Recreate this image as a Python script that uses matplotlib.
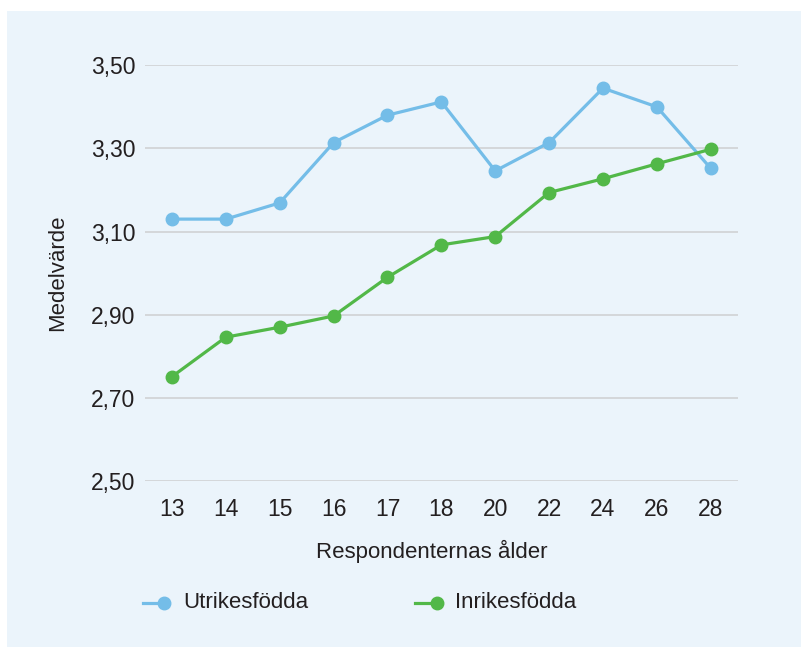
import matplotlib.pyplot as plt
from matplotlib.lines import Line2D
from matplotlib.patches import Rectangle

plt.rcParams['font.family'] = ['Liberation Sans', 'DejaVu Sans']

ages = ['13', '14', '15', '16', '17', '18', '20', '22', '24', '26', '28']
utrikes = [3.130, 3.130, 3.169, 3.314, 3.380, 3.412, 3.246, 3.314, 3.445, 3.400, 3.252]
inrikes = [2.751, 2.846, 2.870, 2.897, 2.990, 3.068, 3.088, 3.194, 3.227, 3.263, 3.298]
yticks = [2.50, 2.70, 2.90, 3.10, 3.30, 3.50]

blue = '#74BDE8'
green = '#52B848'
bg = '#EBF4FB'
txt = '#231F20'

W, H = 801, 647
fig = plt.figure(figsize=(W / 100, H / 100), dpi=100)
fig.patch.set_facecolor('white')
fig.add_artist(Rectangle((7 / W, 0), 1 - 7 / W, 1 - 11 / H, transform=fig.transFigure,
                         facecolor=bg, edgecolor='none', zorder=-10))

ax = fig.add_axes([145 / W, 1 - 481 / H, (737.7 - 145) / W, (481 - 65.3) / H])
ax.set_facecolor('none')

x = list(range(len(ages)))
ax.plot(x, utrikes, color=blue, lw=2.3, marker='o', ms=9, zorder=3)
ax.plot(x, inrikes, color=green, lw=2.3, marker='o', ms=9, zorder=3)

ax.set_xlim(-0.5, len(ages) - 0.5)
ax.set_ylim(2.50, 3.50)
ax.set_xticks(x)
ax.set_xticklabels(ages)
ax.set_yticks(yticks)
ax.set_yticklabels([f'{v:.2f}'.replace('.', ',') for v in yticks])
ax.tick_params(length=0, labelsize=16.5, colors=txt)
ax.tick_params(axis='y', pad=7)
ax.tick_params(axis='x', pad=12)
ax.grid(axis='y', color='#CDCFD1', lw=1.1)
ax.set_axisbelow(True)
for s in ax.spines.values():
    s.set_visible(False)

ax.set_xlabel('Respondenternas ålder', fontsize=16, color=txt)
ax.xaxis.set_label_coords(0.4834, -0.142)
ax.set_ylabel('Medelvärde', fontsize=16, color=txt, labelpad=16)

# legend drawn in pixel coordinates below the axes
def legend_item(x0, x1, color, label, tx):
    y = 1 - 603 / H
    fig.add_artist(Line2D([x0 / W, x1 / W], [y, y], color=color, lw=2.3,
                          transform=fig.transFigure))
    fig.add_artist(Line2D([x1 / W], [y], color=color, marker='o', ms=9, lw=0,
                          transform=fig.transFigure))
    fig.text(tx / W, y, label, fontsize=16, color=txt, va='center', ha='left')

legend_item(143, 164, blue, 'Utrikesfödda', 183)
legend_item(415, 437, green, 'Inrikesfödda', 455)

fig.savefig('out.png', dpi=100)
